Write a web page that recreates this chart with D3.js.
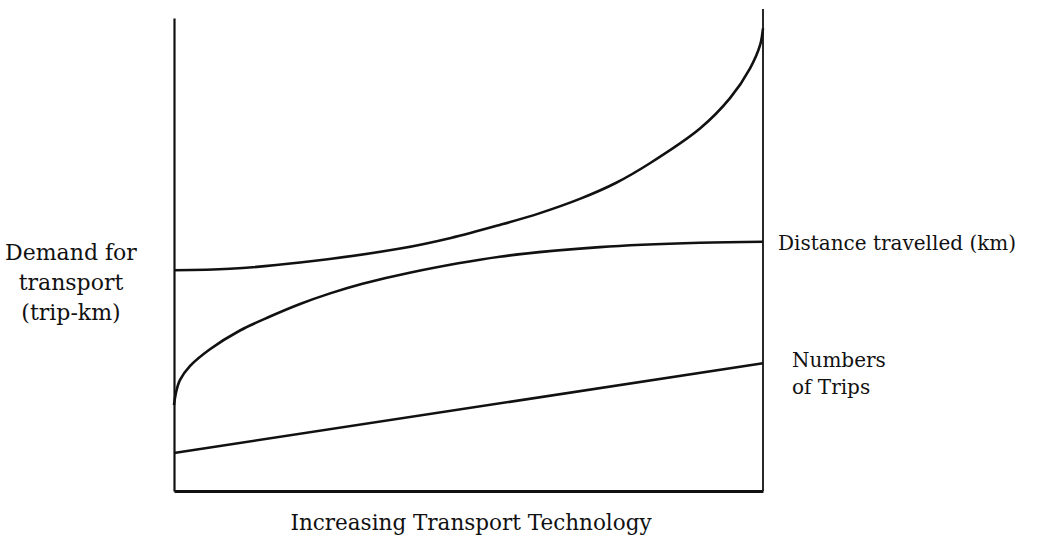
<!DOCTYPE html>
<html>
<head>
<meta charset="utf-8">
<script src="https://cdn.jsdelivr.net/npm/d3@7"></script>
<style>
  body { margin: 0; background: #fff; }
  svg text { font-family: "DejaVu Serif", "Liberation Serif", serif; font-size: 20px; fill: #111; }
</style>
</head>
<body>
<div id="content"></div>
<script>
// technology level (0-100) along the x axis
const TOTAL_X = [0, 9.5, 21.4, 38.4, 47, 55.3, 62, 68.9, 75, 80.8, 89.3, 94.4, 97.8, 99.5, 100];
const TOTAL_Y = [45.8, 46.1, 47.4, 50.3, 52.5, 55.2, 57.6, 60.6, 63.9, 68.0, 75.2, 81.5, 87.7, 92.5, 96];

const DIST_X = [0, 0.3, 1.0, 2.7, 6.1, 11.2, 16.3, 21.4, 26.5, 32, 40, 55.3, 72.3, 89.3, 100];
const DIST_Y = [17.8, 20.2, 23.0, 25.9, 29.4, 33.3, 36.2, 38.8, 41.0, 43.0, 45.3, 48.6, 50.6, 51.5, 51.7];

const TRIPS_X = [0, 100];
const TRIPS_Y = [7.9, 26.5];

const Y_LABEL = ['Demand for', 'transport', '(trip-km)'];
const X_LABEL = 'Increasing Transport Technology';
const DIST_LABEL = 'Distance travelled (km)';
const TRIPS_LABEL = ['Numbers', 'of Trips'];

var width = 1039;
var height = 540;

var svg = d3.select('#content')
  .append('svg')
  .attr('width', width)
  .attr('height', height);

var x = d3.scaleLinear().domain([0, 100]).range([174, 763]);
var y = d3.scaleLinear().domain([0, 100]).range([491, 9]);

var line = d3.line()
  .x(d => x(d[0]))
  .y(d => y(d[1]))
  .curve(d3.curveCatmullRom.alpha(0.5));

function zip(xs, ys) { return xs.map((v, i) => [v, ys[i]]); }

// left axis (starts a little below the right guide line)
var yAxisScale = y.copy().domain([0, y.invert(18)]).range([491, 18]);
svg.append('g')
  .attr('class', 'y-axis')
  .attr('transform', 'translate(' + x(0) + ',0)')
  .call(d3.axisLeft(yAxisScale).tickValues([]).tickSizeOuter(0))
  .select('.domain')
  .attr('stroke', '#111')
  .attr('stroke-width', 2.2);

svg.append('g')
  .attr('class', 'x-axis')
  .attr('transform', 'translate(0,' + y(0) + ')')
  .call(d3.axisBottom(x).tickValues([]).tickSizeOuter(0))
  .select('.domain')
  .attr('stroke', '#111')
  .attr('stroke-width', 3);

// right guide line
svg.append('line')
  .attr('x1', x(100)).attr('x2', x(100))
  .attr('y1', y(100)).attr('y2', y(0))
  .attr('stroke', '#111')
  .attr('stroke-width', 1.8);

var series = [zip(TOTAL_X, TOTAL_Y), zip(DIST_X, DIST_Y), zip(TRIPS_X, TRIPS_Y)];

svg.selectAll('.curve')
  .data(series)
  .enter()
  .append('path')
  .attr('class', 'curve')
  .attr('d', line)
  .attr('fill', 'none')
  .attr('stroke', '#111')
  .attr('stroke-width', 2.6);

// y label
svg.append('text')
  .attr('text-anchor', 'middle')
  .style('font-size', '22px')
  .selectAll('tspan')
  .data(Y_LABEL)
  .enter()
  .append('tspan')
  .attr('x', 71)
  .attr('y', (d, i) => 260 + i * 30)
  .text(d => d);

// x label
svg.append('text')
  .attr('text-anchor', 'middle')
  .style('font-size', '21.5px')
  .attr('x', 471)
  .attr('y', 530)
  .text(X_LABEL);

svg.append('text')
  .attr('x', 778)
  .attr('y', y(DIST_Y[DIST_Y.length - 1]) + 8)
  .text(DIST_LABEL);

svg.append('text')
  .selectAll('tspan')
  .data(TRIPS_LABEL)
  .enter()
  .append('tspan')
  .attr('x', 792)
  .attr('y', (d, i) => 367 + i * 27)
  .text(d => d);
</script>
</body>
</html>
